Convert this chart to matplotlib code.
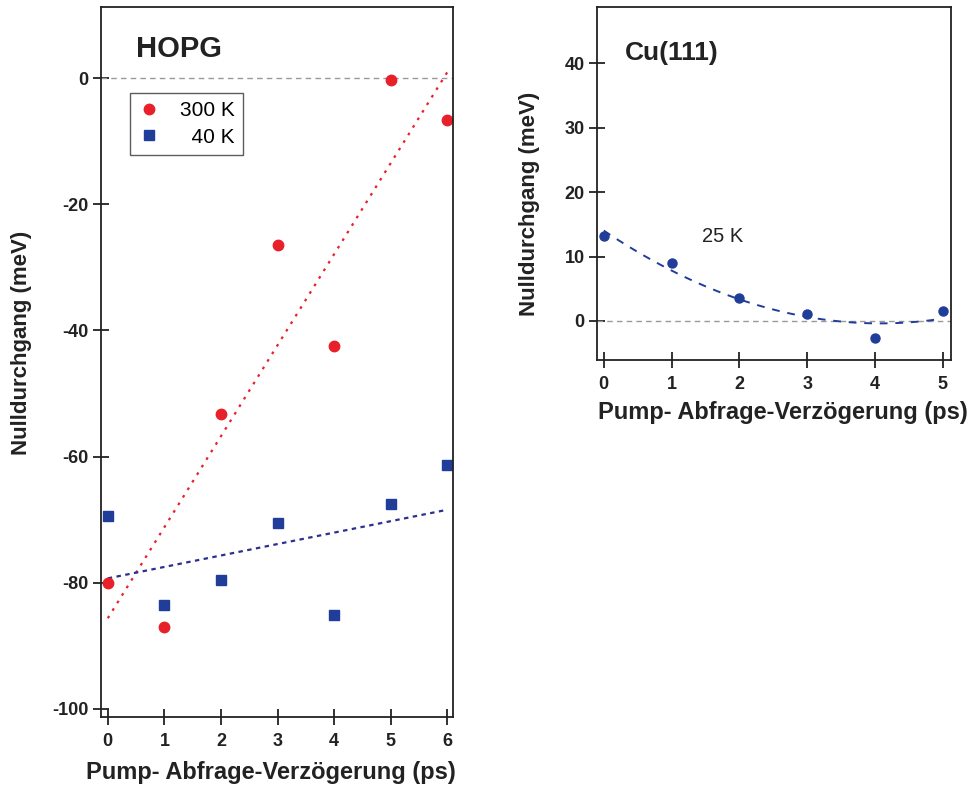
import numpy as np
import matplotlib
matplotlib.use("Agg")
import matplotlib.pyplot as plt

plt.rcParams['font.family'] = ['Liberation Sans', 'DejaVu Sans']
plt.rcParams['axes.unicode_minus'] = False

# HOPG data (meV vs ps)
hopg_delay = [0, 1, 2, 3, 4, 5, 6]
hopg_300k = [-80.0, -87.1, -53.2, -26.5, -42.5, -0.3, -6.7]
hopg_40k = [-69.4, -83.6, -79.5, -70.6, -85.2, -67.5, -61.3]

# Cu(111) data at 25 K
cu_delay = [0, 1, 2, 3, 4, 5]
cu_25k = [13.2, 9.0, 3.6, 1.1, -2.6, 1.55]

red = '#e8202a'
blue = '#1f3d99'
navy = '#2b2f8f'
W, H = 968, 785

fig = plt.figure(figsize=(W / 100, H / 100), dpi=100)

def style_axes(ax):
    for s in ax.spines.values():
        s.set_linewidth(1.3)
        s.set_color('#222222')
    ax.tick_params(direction='inout', length=11, width=1.3, labelsize=13, colors='#222222')
    ax.tick_params(axis='x', pad=6)
    for lab in ax.get_xticklabels() + ax.get_yticklabels():
        lab.set_fontweight('bold')

# ---- left panel: HOPG ----
ax1 = fig.add_axes([101 / W, 1 - 717 / H, 352 / W, 710 / H])
ax1.axhline(0, color='#999999', ls=(0, (4, 3)), lw=1)
xs = np.array([0, 6])
p_red = np.polyfit(hopg_delay, hopg_300k, 1)
p_blue = np.polyfit(hopg_delay, hopg_40k, 1)
ax1.plot(xs, np.polyval(p_red, xs), color=red, ls=(0, (1.2, 2.8)), lw=1.6)
ax1.plot(xs, np.polyval(p_blue, xs), color=navy, ls=(0, (2, 2)), lw=1.6)
ax1.plot(hopg_delay, hopg_300k, 'o', color=red, ms=7.5, label='300 K', ls='none')
ax1.plot(hopg_delay, hopg_40k, 's', color=blue, ms=7, label='  40 K', ls='none')
ax1.set_xlim(-0.12, 6.1)
ax1.set_ylim(-101.3, 11.3)
ax1.set_xticks(range(7))
ax1.set_yticks([0, -20, -40, -60, -80, -100])
style_axes(ax1)
leg = ax1.legend(loc='upper left', bbox_to_anchor=(0.082, 0.879), borderaxespad=0,
                 fontsize=15, frameon=True, fancybox=False, edgecolor='#333333',
                 handletextpad=1.0, borderpad=0.4, handlelength=1.0, labelspacing=0.35)
leg.get_frame().set_linewidth(1.0)
ax1.text(0.1, 0.96, 'HOPG', transform=ax1.transAxes, fontsize=21, fontweight='bold',
         va='top', color='#222222')

# ---- right panel: Cu(111) ----
ax2 = fig.add_axes([597 / W, 1 - 360 / H, 354 / W, 353 / H])
ax2.axhline(0, color='#999999', ls=(0, (4, 3)), lw=1)
p_cu = np.polyfit(cu_delay, cu_25k, 2)
xf = np.linspace(0, 4.92, 100)
ax2.plot(xf, np.polyval(p_cu, xf), color=blue, ls=(0, (4, 4)), lw=1.4)
ax2.plot(cu_delay, cu_25k, 'o', color=blue, ms=6.5, ls='none')
ax2.set_xlim(-0.1, 5.12)
ax2.set_ylim(-6.05, 48.7)
ax2.set_xticks(range(6))
ax2.set_yticks([0, 10, 20, 30, 40])
style_axes(ax2)
ax2.text(0.08, 0.905, 'Cu(111)', transform=ax2.transAxes, fontsize=19, fontweight='bold',
         va='top', color='#222222')
ax2.text(1.45, 12.3, '25 K', fontsize=14.5, color='#222222')

# axis labels
lab_kw = dict(fontsize=16, fontweight='bold', color='#222222', ha='center', va='center')
fig.text(22 / W, 1 - 343 / H, 'Nulldurchgang (meV)', rotation=90, **lab_kw)
fig.text(530 / W, 1 - 204 / H, 'Nulldurchgang (meV)', rotation=90, **lab_kw)
xlab_kw = dict(lab_kw, fontsize=17)
fig.text(271 / W, 1 - 772 / H, 'Pump- Abfrage-Verzögerung (ps)', **xlab_kw)
fig.text(783 / W, 1 - 413 / H, 'Pump- Abfrage-Verzögerung (ps)', **xlab_kw)

fig.savefig('out.png', dpi=100)
